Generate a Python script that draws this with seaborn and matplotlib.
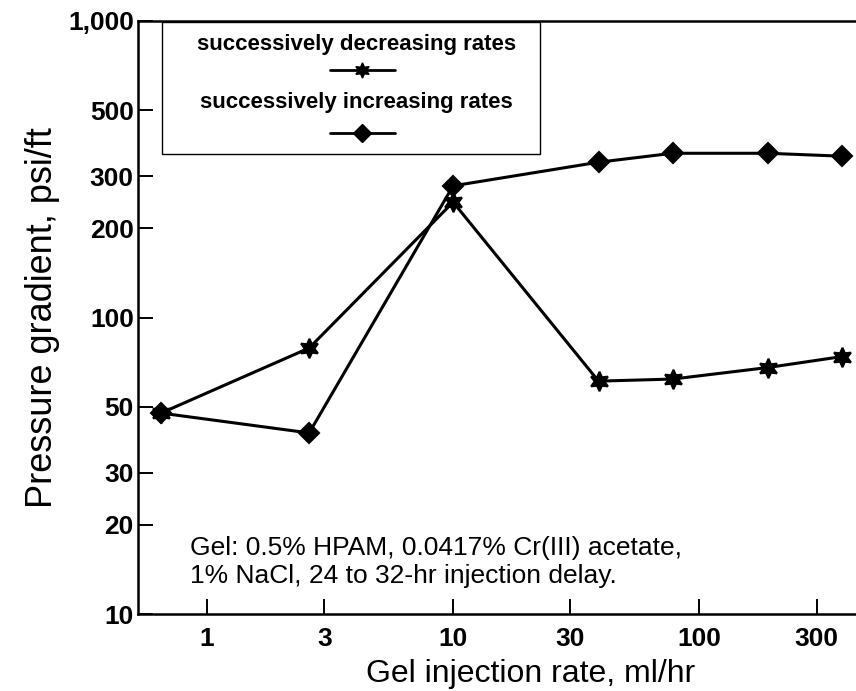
import matplotlib
matplotlib.use("Agg")
import matplotlib.pyplot as plt
import seaborn as sns
import pandas as pd
from matplotlib.lines import Line2D
from matplotlib.patches import Rectangle
from matplotlib.ticker import FixedLocator, NullLocator, NullFormatter

# ---- data ----
rate = [0.65, 2.6, 10, 39, 78, 190, 380]
grad_decreasing = [47.6, 78.9, 245, 61, 62, 67.8, 73.8]
grad_increasing = [47.6, 40.8, 278, 334, 358, 358, 350]
series_names = ["successively decreasing rates", "successively increasing rates"]
y_ticks = [10, 20, 30, 50, 100, 200, 300, 500, 1000]
y_ticklabels = ["10", "20", "30", "50", "100", "200", "300", "500", "1,000"]
y_minor = [40, 60, 70, 80, 90, 400, 600, 700, 800, 900]
x_ticks = [1, 3, 10, 30, 100, 300]
x_ticklabels = ["1", "3", "10", "30", "100", "300"]
note = "Gel: 0.5% HPAM, 0.0417% Cr(III) acetate,\n1% NaCl, 24 to 32-hr injection delay."

df = pd.concat([
    pd.DataFrame({"rate": rate, "grad": grad_increasing, "series": series_names[1]}),
    pd.DataFrame({"rate": rate, "grad": grad_decreasing, "series": series_names[0]}),
])

sns.set_style("white")
plt.rcParams["font.family"] = ["Liberation Sans", "DejaVu Sans"]
plt.rcParams["text.color"] = "black"
plt.rcParams["axes.labelcolor"] = "black"
plt.rcParams["xtick.color"] = "black"
plt.rcParams["ytick.color"] = "black"

fig = plt.figure(figsize=(8.56, 6.91), dpi=100)
ax = fig.add_axes([138 / 856, 1 - 614 / 691, 718 / 856, 593 / 691])

star = (6, 1, 0)
markers = {series_names[0]: star, series_names[1]: "D"}
sns.lineplot(data=df, x="rate", y="grad", hue="series", style="series",
             palette=["black", "black"], markers=markers, dashes=False,
             linewidth=2.2, markersize=12, markeredgecolor="black",
             markeredgewidth=1.5, legend=False, ax=ax, sort=True)

# per-series marker sizes
for ln in ax.get_lines():
    if ln.get_marker() == "D":
        ln.set_markersize(10.5)
    else:
        ln.set_markersize(14)

ax.set_xscale("log")
ax.set_yscale("log")
ax.set_xlim(0.524, 434)
ax.set_ylim(10, 1000)

ax.yaxis.set_major_locator(FixedLocator(y_ticks))
ax.set_yticklabels(y_ticklabels)
ax.yaxis.set_minor_locator(FixedLocator(y_minor))
ax.yaxis.set_minor_formatter(NullFormatter())
ax.xaxis.set_major_locator(FixedLocator(x_ticks))
ax.set_xticklabels(x_ticklabels)
ax.xaxis.set_minor_locator(NullLocator())

for lab in ax.get_xticklabels() + ax.get_yticklabels():
    lab.set_fontweight("bold")
    lab.set_fontsize(19)

ax.tick_params(axis="both", which="major", direction="in", length=11, width=1.4, colors="black")
ax.tick_params(axis="both", which="minor", direction="in", length=7, width=1.2, colors="black")
ax.tick_params(axis="y", which="major", pad=3, left=True)
ax.tick_params(axis="x", which="major", pad=9, bottom=True)

for side in ["left", "bottom", "top"]:
    ax.spines[side].set_visible(True)
    ax.spines[side].set_linewidth(1.8)
    ax.spines[side].set_color("black")
ax.spines["right"].set_visible(False)

ax.set_xlabel("Gel injection rate, ml/hr", fontsize=23)
ax.set_ylabel("Pressure gradient, psi/ft", fontsize=26)
ax.xaxis.set_label_coords((531 - 138) / 718, -0.076)
ax.yaxis.label.set_va("center")
ax.yaxis.set_label_coords((43 - 138) / 718, 0.5)

# annotation
ax.text(0.0724, 0.088, note, transform=ax.transAxes, fontsize=19,
        ha="left", va="center", linespacing=1.2)

# custom legend box (label above handle)
ax.add_patch(Rectangle((0.0334, 0.776), 0.5266, 0.222, transform=ax.transAxes,
                       fill=True, facecolor="white", edgecolor="black", linewidth=1.0,
                       zorder=5))
ax.text(0.304, 0.960, series_names[0], transform=ax.transAxes, ha="center", va="center",
        fontsize=16, fontweight="bold", zorder=6)
ax.text(0.304, 0.862, series_names[1], transform=ax.transAxes, ha="center", va="center",
        fontsize=16, fontweight="bold", zorder=6)
for yy, mk, ms in [(0.917, star, 11), (0.811, "D", 9)]:
    ax.add_line(Line2D([0.267, 0.3125, 0.358], [yy, yy, yy], transform=ax.transAxes,
                       color="black", linewidth=2.0, marker=mk, markersize=ms,
                       markevery=[1], zorder=6))

fig.savefig("out.png", dpi=100)
